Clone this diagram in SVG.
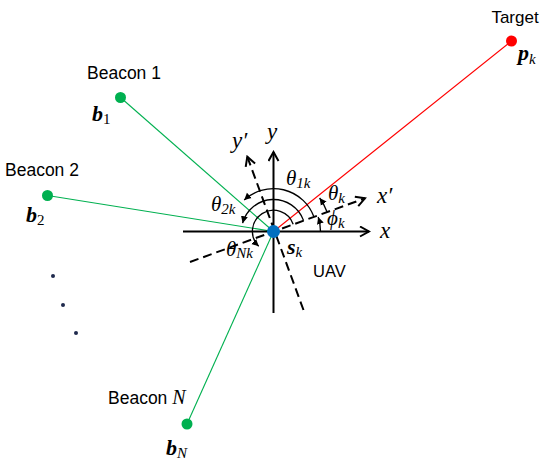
<svg xmlns="http://www.w3.org/2000/svg" width="550" height="465" viewBox="0 0 550 465">
<defs>
<style>
.lbl{font-family:"Liberation Sans",Arial,sans-serif;font-size:17.5px;fill:#000}
.m{font-family:"Liberation Serif","DejaVu Serif",serif;font-style:italic;font-size:21px;fill:#000}
.mb{font-family:"Liberation Serif","DejaVu Serif",serif;font-style:italic;font-weight:bold;font-size:22px;fill:#000}
.sub{font-size:15px;font-weight:normal}
.up{font-style:normal}
.g{stroke:#00B050;stroke-width:1.1;fill:none}
.r{stroke:#FF0000;stroke-width:1.1;fill:none}
.ax{stroke:#000;stroke-width:2;fill:none}
.dash{stroke:#000;stroke-width:2;fill:none;stroke-dasharray:9 5}
.arc{stroke:#000;stroke-width:1.3;fill:none}
</style>
<marker id="open" markerWidth="12" markerHeight="12" refX="10" refY="6" orient="auto" markerUnits="userSpaceOnUse">
<path d="M1,1 L10,6 L1,11" fill="none" stroke="#000" stroke-width="2"/>
</marker>
<marker id="fa" markerWidth="9" markerHeight="9" refX="7" refY="4" orient="auto" markerUnits="userSpaceOnUse">
<path d="M0,0.5 L7,4 L0,7.5 z" fill="#000"/>
</marker>
</defs>
<rect width="550" height="465" fill="#fff"/>

<g id="connectors">
<line class="g" x1="273.5" y1="231.5" x2="120.5" y2="97.5"/>
<line class="g" x1="273.5" y1="231.5" x2="47.5" y2="195.5"/>
<line class="g" x1="273.5" y1="231.5" x2="187" y2="424"/>
<line class="r" x1="273.5" y1="231.5" x2="511.5" y2="41"/>
</g>

<g id="axes">
<line class="ax" x1="183" y1="231.5" x2="369" y2="231.5" marker-end="url(#open)"/>
<line class="ax" x1="273.5" y1="313" x2="273.5" y2="152" marker-end="url(#open)"/>
<line class="dash" x1="190" y1="262" x2="365" y2="198.3" marker-end="url(#open)"/>
<line class="dash" x1="303.5" y1="310" x2="247.3" y2="156.7" marker-end="url(#open)"/>
<text class="m" x="380" y="238" style="font-size:23px">x</text>
<text class="m" x="267" y="139" style="font-size:23px">y</text>
<text class="m" x="377" y="203" style="font-size:23px">x′</text>
<text class="m" x="232" y="148" style="font-size:23px">y′</text>
</g>

<g id="angles">
<path class="arc" d="M313.9,216.8 A43,43 0 0 0 244.2,200.1" marker-end="url(#fa)"/>
<path class="arc" d="M303.6,220.6 A32,32 0 0 0 242.6,223.2" marker-end="url(#fa)"/>
<path class="arc" d="M293.2,224.3 A21,21 0 1 0 258.7,246.3" marker-end="url(#fa)"/>
<path class="arc" d="M320.5,231.5 A47,47 0 0 0 318.2,217" marker-end="url(#fa)"/>
<path class="arc" d="M327.1,212 A57,57 0 0 0 319.6,198" marker-end="url(#fa)"/>
<text class="m" x="286" y="185">θ<tspan class="sub" dy="3">1k</tspan></text>
<text class="m" x="211" y="211">θ<tspan class="sub" dy="3">2k</tspan></text>
<text class="m" x="328" y="200">θ<tspan class="sub" dy="3">k</tspan></text>
<text class="m" x="327" y="225">ϕ<tspan class="sub" dy="3">k</tspan></text>
<text class="m" x="226" y="256">θ<tspan class="sub" dy="2">Nk</tspan></text>
</g>

<g id="uav">
<circle cx="273.5" cy="231.5" r="6.5" fill="#0070C0"/>
<text class="mb" x="287" y="254">s<tspan class="sub" style="font-style:italic" dy="3">k</tspan></text>
<text class="lbl" x="313" y="277" style="font-size:16.5px">UAV</text>
</g>

<g id="target">
<circle cx="511.5" cy="41" r="5.5" fill="#FF0000"/>
<text class="lbl" x="515" y="23" text-anchor="middle" style="font-size:17px">Target</text>
<text class="mb" x="518" y="60">p<tspan class="sub" dy="4">k</tspan></text>
</g>

<g id="beacon1">
<circle cx="120.5" cy="97.5" r="5.5" fill="#00B050"/>
<text class="lbl" x="87" y="79">Beacon 1</text>
<text class="mb" x="92" y="121">b<tspan class="sub up" dy="3">1</tspan></text>
</g>

<g id="beacon2">
<circle cx="47.5" cy="195.5" r="5.5" fill="#00B050"/>
<text class="lbl" x="5" y="176">Beacon 2</text>
<text class="mb" x="26" y="222">b<tspan class="sub up" dy="3">2</tspan></text>
</g>

<g id="beaconN">
<circle cx="187" cy="424" r="5.5" fill="#00B050"/>
<text class="lbl" x="108" y="404">Beacon <tspan style="font-family:'Liberation Serif',serif;font-style:italic;font-size:20px">N</tspan></text>
<text class="mb" x="166" y="455">b<tspan class="sub" style="font-style:italic" dy="3">N</tspan></text>
</g>

<g id="ellipsis" fill="#1F2A4D">
<circle cx="53" cy="276" r="2"/>
<circle cx="63" cy="305" r="2"/>
<circle cx="76" cy="333" r="2"/>
</g>
</svg>
